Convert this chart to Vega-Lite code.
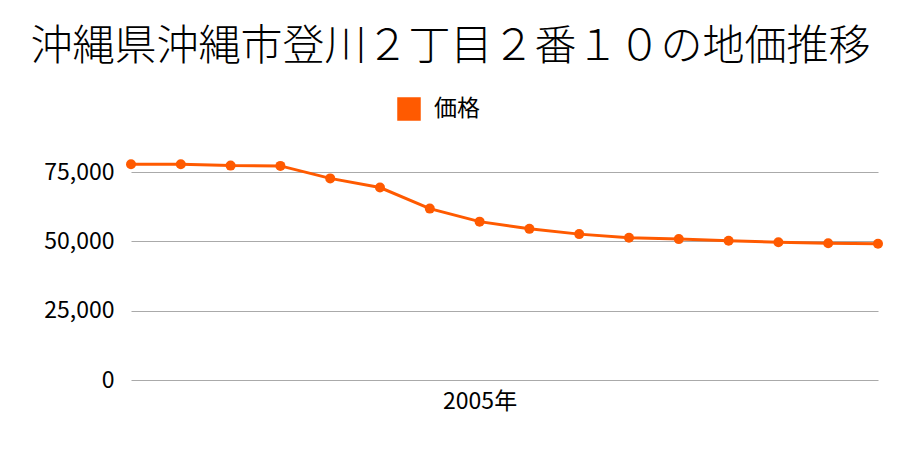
{
  "$schema": "https://vega.github.io/schema/vega-lite/v6.json",
  "autosize": "none",
  "width": 747,
  "height": 208,
  "padding": {"left": 131, "top": 172, "right": 22, "bottom": 70},
  "background": "white",
  "title": {
    "text": "沖縄県沖縄市登川２丁目２番１０の地価推移",
    "font": "Noto Sans CJK JP",
    "fontSize": 42,
    "fontWeight": 300,
    "color": "#000000",
    "anchor": "middle",
    "frame": "group",
    "dx": -54,
    "offset": 28
  },
  "data": {
    "values": [
      {"year": 1998, "price": 77800, "series": "価格"},
      {"year": 1999, "price": 77800, "series": "価格"},
      {"year": 2000, "price": 77300, "series": "価格"},
      {"year": 2001, "price": 77200, "series": "価格"},
      {"year": 2002, "price": 72700, "series": "価格"},
      {"year": 2003, "price": 69400, "series": "価格"},
      {"year": 2004, "price": 61800, "series": "価格"},
      {"year": 2005, "price": 57100, "series": "価格"},
      {"year": 2006, "price": 54500, "series": "価格"},
      {"year": 2007, "price": 52600, "series": "価格"},
      {"year": 2008, "price": 51300, "series": "価格"},
      {"year": 2009, "price": 50800, "series": "価格"},
      {"year": 2010, "price": 50200, "series": "価格"},
      {"year": 2011, "price": 49700, "series": "価格"},
      {"year": 2012, "price": 49300, "series": "価格"},
      {"year": 2013, "price": 49100, "series": "価格"}
    ]
  },
  "config": {
    "font": "Noto Sans CJK JP",
    "view": {"stroke": null}
  },
  "encoding": {
    "x": {
      "field": "year",
      "type": "quantitative",
      "scale": {"domain": [1998, 2013], "nice": false, "zero": false},
      "axis": {
        "values": [2005],
        "labelExpr": "datum.value + '年'",
        "title": null,
        "grid": false,
        "domain": false,
        "ticks": false,
        "labelFontSize": 23,
        "labelColor": "#000000",
        "labelPadding": 10,
        "labelFont": "Noto Sans CJK JP"
      }
    },
    "y": {
      "field": "price",
      "type": "quantitative",
      "scale": {"domain": [0, 75000], "nice": false},
      "axis": {
        "values": [0, 25000, 50000, 75000],
        "format": ",d",
        "title": null,
        "domain": false,
        "ticks": false,
        "labelFontSize": 23,
        "labelColor": "#000000",
        "labelPadding": 17,
        "gridColor": "#aaaaaa",
        "gridWidth": 1.2,
        "labelFont": "Noto Sans CJK JP"
      }
    },
    "color": {
      "field": "series",
      "type": "nominal",
      "scale": {"range": ["#ff5a00"]},
      "legend": {
        "title": null,
        "orient": "none",
        "legendX": 266,
        "legendY": -75,
        "symbolType": "square",
        "symbolSize": 484,
        "symbolOpacity": 1,
        "labelOffset": 13,
        "labelFontSize": 23,
        "labelColor": "#000000",
        "labelFont": "Noto Sans CJK JP"
      }
    }
  },
  "layer": [
    {"mark": {"type": "line", "strokeWidth": 3, "clip": false}},
    {"mark": {"type": "point", "filled": true, "size": 100, "opacity": 1, "clip": false}}
  ]
}
